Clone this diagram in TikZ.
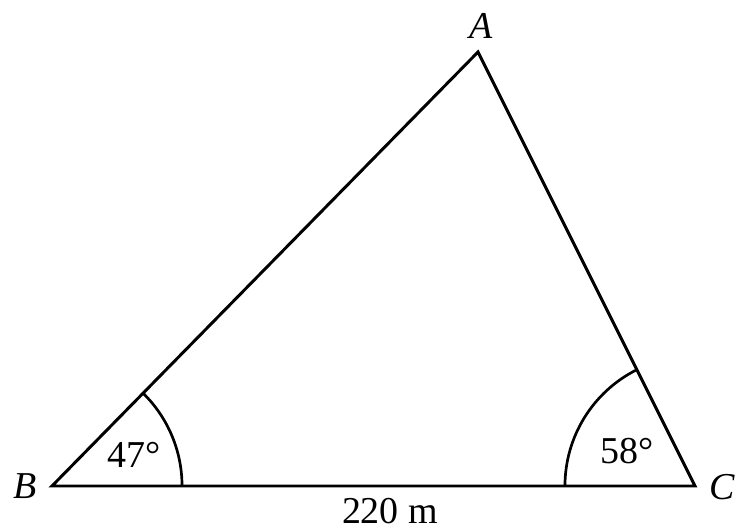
\documentclass[tikz,border=0pt]{standalone}
\usepackage{fontspec}
\setmainfont{Liberation Serif}
\usetikzlibrary{angles, positioning}

\begin{document}
\begin{tikzpicture}[x=0.025cm, y=-0.025cm,
		side/.style={line width=2.1pt, line join=miter},
		anglearc/.style={draw, line width=1.9pt, angle radius=3.25cm},
		vertexlabel/.style={font=\fontsize{27}{32}\selectfont\itshape, inner sep=0pt},
		sizelabel/.style={font=\fontsize{27}{32}\selectfont, inner sep=0pt}]
	\useasboundingbox (0,0) rectangle (739,530);
	
	\coordinate (B) at (52,486);
	\coordinate (C) at (695,486);
	\coordinate (A) at (478,52);
	
	\draw[side] (B) -- (C) -- (A) -- cycle;
	\pic[anglearc] {angle=C--B--A};
	\pic[anglearc] {angle=A--C--B};
	
	\node[vertexlabel] (lA) at (481,26) {A};
	\node[vertexlabel] (lB) at (25,486) {B};
	\node[vertexlabel] (lC) at (722,487) {C};
	\node[sizelabel] (angB) at (134,455) {47°};
	\node[sizelabel] (angC) at (627,451) {58°};
	\node[sizelabel] (base) at (390,511) {220 m};
\end{tikzpicture}
\end{document}
